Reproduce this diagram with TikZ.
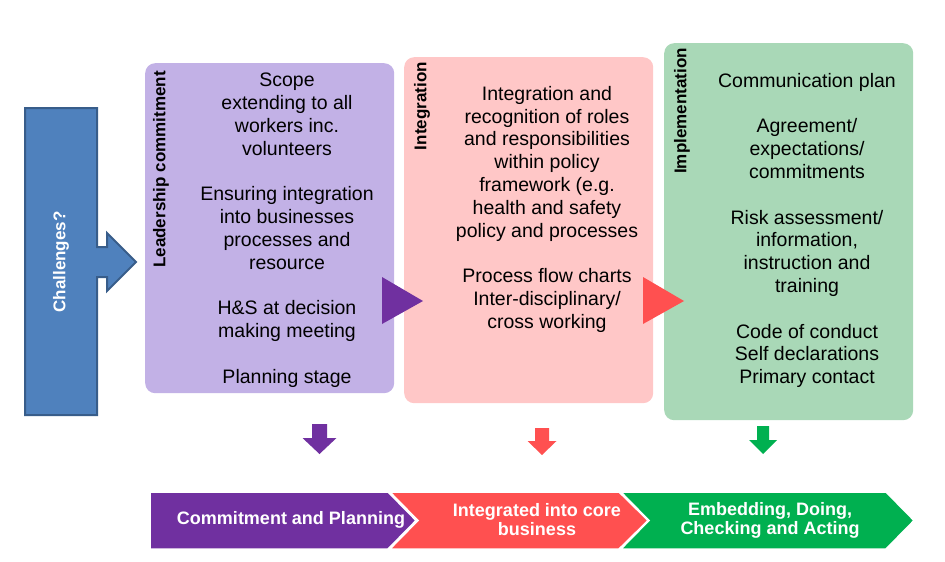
\documentclass[tikz,border=0pt]{standalone}
\usepackage{fontspec}
\setmainfont{Liberation Sans}
\usetikzlibrary{positioning}

\definecolor{chalblue}{RGB}{79,129,189}
\definecolor{challine}{RGB}{56,93,138}
\definecolor{lightpurple}{RGB}{194,177,230}
\definecolor{lightpink}{RGB}{255,199,199}
\definecolor{lightgreen}{RGB}{169,216,183}
\definecolor{darkpurple}{RGB}{112,48,160}
\definecolor{coral}{RGB}{255,80,80}
\definecolor{darkgreen}{RGB}{0,176,80}

\tikzset{
  stage/.style={rounded corners=10pt, inner sep=0pt, anchor=north west},
  body/.style={align=center, inner sep=0pt, anchor=north, font=\fontsize{19.5}{22.8}\selectfont},
  sidelabel/.style={rotate=90, anchor=east, inner sep=0pt, font=\bfseries\fontsize{17}{20}\selectfont},
  band/.style={align=center, inner sep=0pt, text=white, font=\bfseries\fontsize{18}{19}\selectfont}
}

\begin{document}
\begin{tikzpicture}[x=1pt, y=-1pt]
  \useasboundingbox (0,0) rectangle (945,562);

  \draw [fill=chalblue, draw=challine, line width=2pt]
    (25,108) -- (97,108) -- (97,247) -- (107,247) -- (107,233) -- (136,262)
    -- (107,291) -- (107,277) -- (97,277) -- (97,415) -- (25,415) -- cycle;
  \node [rotate=90, text=white, font=\bfseries\fontsize{17}{20}\selectfont] (challenges) at (61,262) {Challenges?};

  \node [stage, fill=lightpurple, minimum width=249pt, minimum height=330pt] (leadership) at (145,63) {};
  \node [stage, fill=lightpink, minimum width=249pt, minimum height=346pt] (integration) at (404,57) {};
  \node [stage, fill=lightgreen, minimum width=249pt, minimum height=377pt] (implementation) at (664,43) {};

  \node [sidelabel] (leadership label) at (161,71) {Leadership commitment};
  \node [sidelabel] (integration label) at (422,62) {Integration};
  \node [sidelabel] (implementation label) at (682,48) {Implementation};

  \node [body] (leadership text) at (287,73) {Scope\\extending to all\\workers inc.\\volunteers\\[22.8pt]
    Ensuring integration\\into businesses\\processes and\\resource\\[22.8pt]
    H\&S at decision\\making meeting\\[22.8pt] Planning stage};
  \node [body] (integration text) at (547,86) {Integration and\\recognition of roles\\and responsibilities\\within policy\\framework (e.g.\\health and safety\\policy and processes\\[22.8pt]
    Process flow charts\\Inter-disciplinary/\\cross working};
  \node [body] (implementation text) at (807,73) {Communication plan\\[22.8pt]
    Agreement/\\expectations/\\commitments\\[22.8pt]
    Risk assessment/\\information,\\instruction and\\training\\[22.8pt]
    Code of conduct\\Self declarations\\Primary contact};

  \fill [darkpurple] (382,277) -- (423,301) -- (382,324) -- cycle;
  \fill [coral] (643,277) -- (684,301) -- (643,324) -- cycle;

  \foreach \x/\s/\h/\t/\n/\p/\c in {319.5/7.5/17/424/438/454/darkpurple, 542/7/14.5/428/441/455/coral, 763/6/14/426/440/454/darkgreen}
    \fill [\c] (\x-\s,\t) -- (\x+\s,\t) -- (\x+\s,\n) -- (\x+\h,\n) -- (\x,\p) -- (\x-\h,\n) -- (\x-\s,\n) -- cycle;

  \filldraw [fill=darkpurple, draw=white, line width=1.5pt]
    (150,492) -- (388,492) -- (416,520.5) -- (388,549) -- (150,549) -- cycle;
  \filldraw [fill=coral, draw=white, line width=1.5pt]
    (390,492) -- (619,492) -- (648,520.5) -- (619,549) -- (390,549) -- (418,520.5) -- cycle;
  \filldraw [fill=darkgreen, draw=white, line width=1.5pt]
    (621,492) -- (886,492) -- (914,520.5) -- (886,549) -- (621,549) -- (649,520.5) -- cycle;

  \node [band] (planning) at (291,520) {Commitment and Planning};
  \node [band] (core) at (537,519.5) {Integrated into core\\business};
  \node [band] (acting) at (770,520) {Embedding, Doing,\\Checking and Acting};
\end{tikzpicture}
\end{document}
